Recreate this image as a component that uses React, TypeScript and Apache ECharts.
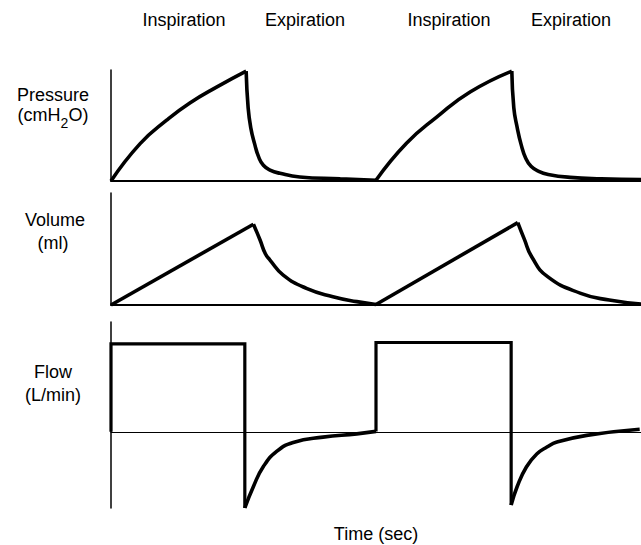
import React, { useEffect, useRef } from "react";
import * as echarts from "echarts";

// time axis (arbitrary seconds), two breathing cycles
const timeRange = [0, 8];

// Pressure (cmH2O) — [time, value]
const pressureRise1 = [[0, 0], [0.44, 10.2], [0.84, 16.6], [1.19, 21.3], [1.6, 25.7], [2.04, 30]];
const pressureDrop1 = [[2.04, 30], [2.07, 20], [2.11, 14.5], [2.17, 10], [2.23, 6.5], [2.3, 4.3], [2.4, 3.0], [2.55, 2.1], [2.85, 1.1], [3.46, 0.6], [4.0, 0.2]];
const pressureRise2 = [[4.0, 0.2], [4.46, 10.3], [4.92, 17.5], [5.42, 24.3], [6.05, 30]];
const pressureDrop2 = [[6.05, 30], [6.08, 20], [6.13, 14.7], [6.19, 10], [6.26, 6.2], [6.34, 4.0], [6.45, 2.7], [6.6, 1.8], [6.93, 1.0], [7.4, 0.6], [8.0, 0.4]];

// Volume (ml)
const volumeRise1 = [[0, 0], [2.15, 505]];
const volumeDecay1 = [[2.15, 505], [2.25, 406], [2.33, 320], [2.4, 281], [2.6, 187], [2.95, 104], [3.35, 52], [3.71, 21], [4.0, 3]];
const volumeRise2 = [[4.0, 3], [6.14, 515]];
const volumeDecay2 = [[6.14, 515], [6.24, 410], [6.35, 302], [6.59, 177], [7.09, 73], [7.52, 31], [8.0, 6]];

// Flow (L/min)
const flowSquare1 = [[0, 0], [0, 60], [2.02, 60], [2.02, -52]];
const flowDecay1 = [[2.02, -52], [2.15, -37.3], [2.3, -23.7], [2.5, -13.4], [2.75, -7.3], [3.2, -3.6], [3.71, -1.4], [4.0, 0.3]];
const flowSquare2 = [[4.0, 0.3], [4.0, 61], [6.04, 61], [6.04, -50]];
const flowDecay2 = [[6.04, -50], [6.13, -37.5], [6.27, -24], [6.43, -15], [6.58, -10.4], [6.73, -7], [7.18, -2.4], [7.98, 1.8]];

const phaseLabels = ["Inspiration", "Expiration", "Inspiration", "Expiration"];
const phaseLabelX = [184, 305, 449, 571];

const FONT = '"Liberation Sans", Arial, Helvetica, sans-serif';

function measure(text: string, size: number): number {
  const c = document.createElement("canvas").getContext("2d");
  if (!c) return text.length * size * 0.55;
  c.font = `${size}px ${FONT}`;
  return c.measureText(text).width;
}

export default function App() {
  const ref = useRef<HTMLDivElement>(null);
  useEffect(() => {
    if (!ref.current) return;
    const chart = echarts.init(ref.current, undefined, { renderer: "svg" });

    const grids = [
      { left: 111, right: 0, top: 70, height: 111 },
      { left: 111, right: 0, top: 193, height: 112 },
      { left: 111, right: 0, top: 322, height: 186 },
    ];
    const yRanges = [
      { min: 0, max: 30.3 },
      { min: 0, max: 700 },
      { min: -52, max: 75 },
    ];
    const xLineW = [2, 2, 1.2];

    const xAxis = grids.map((_, i) => ({
      type: "value",
      gridIndex: i,
      min: timeRange[0],
      max: timeRange[1],
      axisLine: { show: true, onZero: true, lineStyle: { color: "#000", width: xLineW[i] } },
      axisTick: { show: false },
      axisLabel: { show: false },
      splitLine: { show: false },
    }));
    const yAxis = grids.map((_, i) => ({
      type: "value",
      gridIndex: i,
      min: yRanges[i].min,
      max: yRanges[i].max,
      axisLine: { show: true, onZero: false, lineStyle: { color: "#000", width: 1.5 } },
      axisTick: { show: false },
      axisLabel: { show: false },
      splitLine: { show: false },
    }));

    const mk = (idx: number, data: number[][], smooth: boolean, width: number) => ({
      type: "line",
      xAxisIndex: idx,
      yAxisIndex: idx,
      data,
      smooth: smooth ? 0.5 : false,
      symbol: "none",
      clip: false,
      lineStyle: { color: "#000", width, join: "miter", cap: "butt" },
      z: 5,
    });

    const series = [
      mk(0, pressureRise1, true, 3.6),
      mk(0, pressureDrop1, true, 3.6),
      mk(0, pressureRise2, true, 3.6),
      mk(0, pressureDrop2, true, 3.6),
      mk(1, volumeRise1, false, 3.6),
      mk(1, volumeDecay1, true, 3.6),
      mk(1, volumeRise2, false, 3.6),
      mk(1, volumeDecay2, true, 3.6),
      mk(2, flowSquare1, false, 3.2),
      mk(2, flowDecay1, true, 3.6),
      mk(2, flowSquare2, false, 3.2),
      mk(2, flowDecay2, true, 3.6),
    ];

    const txt = (text: string, x: number, y: number, size = 18, align = "center") => ({
      type: "text",
      x,
      y,
      style: {
        text,
        fill: "#000",
        font: `${size}px ${FONT}`,
        textAlign: align,
        textVerticalAlign: "middle",
      },
    });

    // (cmH2O) with subscript
    const w1 = measure("(cmH", 18);
    const w2 = measure("2", 14);
    const w3 = measure("O)", 18);
    const sx = 53 - (w1 + w2 + w3) / 2;

    const graphic = [
      ...phaseLabels.map((t, i) => txt(t, phaseLabelX[i], 20)),
      txt("Pressure", 53, 95),
      txt("(cmH", sx, 115, 18, "left"),
      txt("2", sx + w1, 123, 14, "left"),
      txt("O)", sx + w1 + w2, 115, 18, "left"),
      txt("Volume", 55, 220),
      txt("(ml)", 53, 243),
      txt("Flow", 53, 372),
      txt("(L/min)", 53, 395),
      txt("Time (sec)", 376, 534),
    ];

    chart.setOption({
      animation: false,
      backgroundColor: "#fff",
      grid: grids,
      xAxis,
      yAxis,
      series,
      graphic,
    });
    return () => chart.dispose();
  }, []);
  return (
    <div
      ref={ref}
      style={{ position: "fixed", left: 0, top: 0, width: 641, height: 545, background: "#fff" }}
    />
  );
}
